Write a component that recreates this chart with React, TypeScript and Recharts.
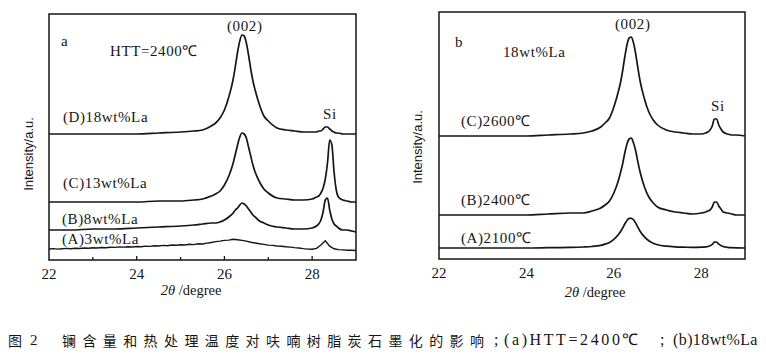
import React from 'react';
import { LineChart, Line, XAxis, YAxis, ReferenceArea } from 'recharts';

// panel (a): HTT = 2400℃, La content series
const xGridA = [
  22, 22.5, 23, 23.5, 24, 24.5, 25, 25.3, 25.5, 25.7, 25.8, 25.9,
  26.0, 26.1, 26.2, 26.25, 26.3, 26.35, 26.4, 26.45, 26.5, 26.55, 26.6, 26.65, 26.7,
  26.8, 26.9, 27.0, 27.2, 27.4, 27.6, 27.8,
  28.0, 28.1, 28.15, 28.2, 28.25, 28.3, 28.35, 28.4, 28.45, 28.5, 28.55, 28.6,
  28.7, 28.8, 28.9, 29.0,
];
const la18 = [
  126, 126, 126, 126, 126, 127, 128, 129, 130, 134, 137, 142,
  150, 163, 181, 194, 208, 219, 225, 224, 217, 205, 191, 179, 170,
  155, 144, 139, 132, 130, 129, 128,
  128, 128, 129, 129, 131, 133, 133, 131, 129, 128, 127, 127,
  126, 126, 126, 126,
];
const la13 = [
  58, 58, 58, 58, 58, 59, 59, 60, 61, 64, 66, 69,
  75, 84, 97, 106, 115, 123, 127, 126, 122, 113, 104, 95, 88,
  78, 71, 67, 62, 61, 60, 60,
  61, 63, 64, 67, 72, 81, 97, 120, 115, 88, 70, 63,
  60, 59, 58, 58,
];
const la8 = [
  30, 30, 31, 31, 32, 33, 34, 35, 36, 37, 37, 38,
  40, 43, 47, 50, 52, 55, 57, 56, 54, 51, 48, 45, 43,
  39, 37, 35, 33, 32, 31, 31,
  32, 34, 36, 40, 48, 60, 62, 50, 41, 36, 34, 32,
  30, 30, 29, 28,
];
// 3wt% La is noisy, read on a finer grid
const xFineA = [
  22.0, 22.1, 22.2, 22.3, 22.4, 22.5, 22.6, 22.7, 22.8, 22.9,
  23.0, 23.1, 23.2, 23.3, 23.4, 23.5, 23.6, 23.7, 23.8, 23.9,
  24.0, 24.1, 24.2, 24.3, 24.4, 24.5, 24.6, 24.7, 24.8, 24.9,
  25.0, 25.1, 25.2, 25.3, 25.4, 25.5, 25.6, 25.7, 25.8, 25.9,
  26.0, 26.1, 26.2, 26.3, 26.4, 26.5, 26.6, 26.7, 26.8, 26.9,
  27.0, 27.1, 27.2, 27.3, 27.4, 27.5, 27.6, 27.7, 27.8, 27.9,
  28.0, 28.1, 28.2, 28.3, 28.4, 28.5, 28.6, 28.7, 28.8, 28.9, 29.0,
];
const la3 = [
  11.0, 11.4, 10.9, 11.3, 11.6, 11.2, 11.7, 11.5, 12.0, 11.8,
  12.2, 12.0, 12.5, 12.3, 12.8, 12.6, 13.1, 12.9, 13.3, 13.0,
  13.5, 13.3, 13.9, 13.6, 14.2, 14.0, 14.6, 14.3, 15.0, 14.7,
  15.2, 15.0, 15.7, 15.4, 16.2, 16.0, 16.9, 17.5, 18.4, 18.9,
  19.6, 19.9, 20.8, 20.3, 19.6, 18.9, 17.8, 17.0, 16.2, 15.6,
  14.9, 14.6, 14.0, 13.8, 13.2, 12.9, 12.4, 12.0, 11.4, 10.9,
  10.7, 11.6, 15.0, 19.2, 13.8, 11.2, 10.4, 10.1, 9.8, 9.7, 9.5,
];

// panel (b): 18wt% La, heat treatment temperature series
const xGridB = [
  22, 22.5, 23, 23.5, 24, 24.5, 25, 25.3, 25.5, 25.7, 25.8, 25.9,
  26.0, 26.1, 26.15, 26.2, 26.25, 26.3, 26.35, 26.4, 26.45, 26.5, 26.55, 26.6,
  26.7, 26.8, 26.9, 27.0, 27.2, 27.4, 27.6, 27.8,
  28.0, 28.1, 28.15, 28.2, 28.25, 28.3, 28.35, 28.4, 28.45, 28.5, 28.6,
  28.7, 28.8, 29.0,
];
const t2600 = [
  123, 123, 123, 123, 123, 124, 125, 126, 128, 132, 136, 141,
  152, 167, 176, 188, 202, 214, 221, 222, 216, 205, 191, 178,
  160, 147, 139, 134, 129, 127, 126, 125,
  125, 126, 127, 129, 133, 140, 140, 134, 130, 127, 125,
  124, 124, 123,
];
const t2400 = [
  44, 44, 44, 44, 44, 45, 46, 46, 48, 51, 54, 58,
  66, 78, 86, 95, 106, 115, 120, 121, 116, 108, 97, 87,
  72, 62, 56, 52, 49, 47, 46, 45,
  46, 47, 48, 49, 52, 57, 57, 53, 50, 47, 46,
  45, 44, 44,
];
const t2100 = [
  11, 11, 11, 11, 11, 11.3, 11.6, 12, 12.5, 13.7, 14.9, 16.6,
  19.7, 24.2, 27.2, 30.8, 35, 38.6, 40.6, 40.7, 39.2, 35.9, 31.7, 27.8,
  22.1, 18.2, 15.8, 14.3, 12.8, 12.1, 11.8, 11.6,
  11.8, 12.1, 12.5, 13.2, 14.6, 16.8, 17, 14.9, 13.4, 12.5, 11.7,
  11.4, 11.2, 11,
];

const ticksA = [22, 23, 24, 25, 26, 27, 28, 29];
const ticksB = [22, 24, 26, 28];

const toPoints = (xs: number[], ys: number[]) => xs.map((x, i) => ({ x, y: ys[i] }));

const SERIF = '"Liberation Serif", "Times New Roman", serif';
const SANS = '"Liberation Sans", Arial, sans-serif';
const CJK = '"Noto Sans CJK SC", sans-serif';
const INK = '#161616';

function makeTick(withMarks: boolean) {
  return (props: any) => {
    const { x, y, payload } = props;
    const v = payload.value;
    const major = v % 2 === 0;
    return (
      <g style={{ fontFamily: SERIF }}>
        {withMarks && v > 22 && v < 29 && (
          <line x1={x} x2={x} y1={y} y2={y - (major ? 4 : 3)} stroke={INK} strokeWidth={1.3} />
        )}
        {major && (
          <text
            x={x}
            y={y + 19}
            textAnchor="middle"
            fontFamily="Liberation Serif"
            style={{ fontFamily: SERIF, fontSize: 15 }}
            fill={INK}
          >
            {v}
          </text>
        )}
      </g>
    );
  };
}

function Txt({ left, top, children, size = 15, spacing = 0.6 }: any) {
  return (
    <div
      style={{
        position: 'absolute',
        left,
        top: top - 8,
        fontFamily: SERIF,
        fontSize: size,
        lineHeight: '15px',
        letterSpacing: spacing,
        whiteSpace: 'nowrap',
        color: INK,
      }}
    >
      {children}
    </div>
  );
}

function YTitle({ cx, cy }: { cx: number; cy: number }) {
  return (
    <div
      style={{
        position: 'absolute',
        left: cx,
        top: cy,
        transform: 'translate(-50%, -50%) rotate(-90deg)',
        fontFamily: SANS,
        fontSize: 13,
        whiteSpace: 'nowrap',
        color: INK,
      }}
    >
      Intensity/a.u.
    </div>
  );
}

function XTitle({ cx, cy }: { cx: number; cy: number }) {
  return (
    <div
      style={{
        position: 'absolute',
        left: cx,
        top: cy,
        transform: 'translate(-50%, -50%)',
        fontFamily: SERIF,
        fontSize: 14.5,
        whiteSpace: 'nowrap',
        color: INK,
      }}
    >
      <i>2θ</i> /degree
    </div>
  );
}

const lineProps = {
  type: 'monotone' as const,
  dataKey: 'y',
  stroke: INK,
  strokeWidth: 1.7,
  dot: false,
  isAnimationActive: false,
};

const capBase = { position: 'absolute' as const, top: 331, lineHeight: '18px', whiteSpace: 'nowrap' as const, color: INK };

export default function App() {
  return (
    <div style={{ position: 'relative', width: 766, height: 362, background: '#fff', overflow: 'hidden' }}>
      <style>{'body{margin:0}'}</style>

      {/* panel a */}
      <div style={{ position: 'absolute', left: 0, top: 0 }}>
        <LineChart width={383} height={300} margin={{ top: 14, right: 27, bottom: 0, left: 49 }}>
          <XAxis
            type="number"
            dataKey="x"
            domain={[22, 29]}
            ticks={ticksA}
            allowDataOverflow
            height={40}
            axisLine={false}
            tickLine={false}
            tickSize={0}
            tickMargin={0}
            tick={makeTick(true)}
          />
          <YAxis hide type="number" domain={[0, 246]} allowDataOverflow />
          <ReferenceArea x1={22} x2={29} y1={0} y2={246} fill="none" stroke={INK} strokeWidth={1.5} />
          <Line {...lineProps} data={toPoints(xFineA, la3)} type="linear" strokeWidth={1.4} />
          <Line {...lineProps} data={toPoints(xGridA, la8)} />
          <Line {...lineProps} data={toPoints(xGridA, la13)} />
          <Line {...lineProps} data={toPoints(xGridA, la18)} />
        </LineChart>
      </div>

      {/* panel b */}
      <div style={{ position: 'absolute', left: 383, top: 0 }}>
        <LineChart width={383} height={300} margin={{ top: 12, right: 21, bottom: 0, left: 56 }}>
          <XAxis
            type="number"
            dataKey="x"
            domain={[22, 29]}
            ticks={ticksB}
            allowDataOverflow
            height={41}
            axisLine={false}
            tickLine={false}
            tickSize={0}
            tickMargin={0}
            tick={makeTick(false)}
          />
          <YAxis hide type="number" domain={[0, 247]} allowDataOverflow />
          <ReferenceArea x1={22} x2={29} y1={0} y2={247} fill="none" stroke={INK} strokeWidth={1.5} />
          <Line {...lineProps} data={toPoints(xGridB, t2100)} />
          <Line {...lineProps} data={toPoints(xGridB, t2400)} />
          <Line {...lineProps} data={toPoints(xGridB, t2600)} />
        </LineChart>
      </div>

      {/* panel a labels */}
      <Txt left={61} top={42}>a</Txt>
      <Txt left={110} top={52}>HTT=2400℃</Txt>
      <Txt left={227} top={27}>(002)</Txt>
      <Txt left={323} top={115}>Si</Txt>
      <Txt left={63} top={118}>(D)18wt%La</Txt>
      <Txt left={63} top={184}>(C)13wt%La</Txt>
      <Txt left={62} top={220}>(B)8wt%La</Txt>
      <Txt left={62} top={240}>(A)3wt%La</Txt>
      <YTitle cx={28} cy={154} />
      <XTitle cx={191} cy={290} />

      {/* panel b labels */}
      <Txt left={455} top={43}>b</Txt>
      <Txt left={503} top={53}>18wt%La</Txt>
      <Txt left={615} top={25}>(002)</Txt>
      <Txt left={711} top={107}>Si</Txt>
      <Txt left={461} top={122}>(C)2600℃</Txt>
      <Txt left={461} top={201}>(B)2400℃</Txt>
      <Txt left={461} top={239}>(A)2100℃</Txt>
      <YTitle cx={417} cy={147} />
      <XTitle cx={595} cy={292} />

      {/* caption */}
      <div style={{ ...capBase, left: 8, fontFamily: CJK, fontSize: 14 }}>图</div>
      <div style={{ ...capBase, left: 30, fontFamily: SERIF, fontSize: 15 }}>2</div>
      <div style={{ ...capBase, left: 62, fontFamily: CJK, fontSize: 14, letterSpacing: 6.4 }}>
        镧含量和热处理温度对呋喃树脂炭石墨化的影响
      </div>
      <div style={{ ...capBase, left: 494, fontFamily: SERIF, fontSize: 16 }}>;</div>
      <div style={{ ...capBase, left: 504, fontFamily: SERIF, fontSize: 16, letterSpacing: 2.6 }}>
        (a)HTT=2400℃
      </div>
      <div style={{ ...capBase, left: 660, fontFamily: SERIF, fontSize: 16 }}>;</div>
      <div style={{ ...capBase, left: 673, fontFamily: SERIF, fontSize: 16, letterSpacing: 0.4 }}>
        (b)18wt%La
      </div>
    </div>
  );
}
